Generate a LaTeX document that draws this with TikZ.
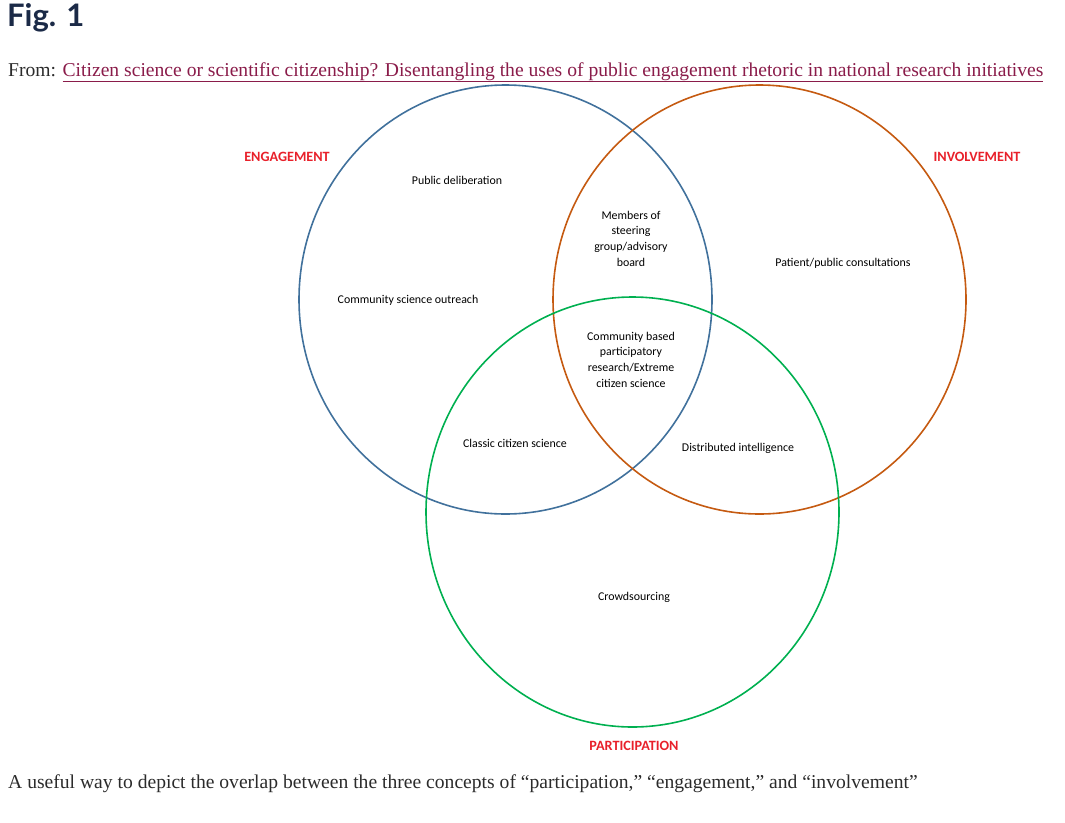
\documentclass[tikz,border=0pt]{standalone}
\usepackage{fontspec}
\setmainfont{Liberation Serif}
\newfontfamily\carlito{Carlito}
\newfontfamily\figfont{Lato}
\definecolor{engblue}{HTML}{41719C}
\definecolor{invorange}{HTML}{C55A11}
\definecolor{pargreen}{HTML}{00B050}
\definecolor{labred}{HTML}{E8202A}
\definecolor{titlenavy}{HTML}{1B2A47}
\definecolor{linkred}{HTML}{8A1C4A}
\definecolor{bodygray}{HTML}{2B2B2B}
\begin{document}
\begin{tikzpicture}[x=1pt,y=-1pt,
  setcircle/.style={line width=1.6pt},
  setlabel/.style={font=\carlito\bfseries\fontsize{14.2}{16}\selectfont, text=labred, inner sep=0pt},
  itemlabel/.style={font=\carlito\fontsize{11.9}{15.7}\selectfont, text=black, inner sep=0pt, align=center}]
\useasboundingbox (0,0) rectangle (1065,822);
% title and source line
\node[anchor=west, inner sep=0pt, font=\figfont\bfseries\fontsize{31}{34}\selectfont, text=titlenavy] (fig) at (7,18) {Fig. 1};
\node[anchor=base west, inner sep=0pt, font=\fontsize{19.6}{22}\selectfont, text=bodygray] (from) at (8,76)
  {From: \textcolor{linkred}{\underline{Citizen science or scientific citizenship? Disentangling the uses of public engagement rhetoric in national research initiatives}}};
% circles
\draw[setcircle, engblue] (505.5,299.5) ellipse [x radius=206.5, y radius=214.5];
\draw[setcircle, invorange] (759.5,299.5) ellipse [x radius=206.5, y radius=214.5];
\draw[setcircle, pargreen] (632.5,512) ellipse [x radius=206.5, y radius=215];
% set labels
\node[setlabel] (eng) at (287,157) {ENGAGEMENT};
\node[setlabel] (inv) at (977,157) {INVOLVEMENT};
\node[setlabel] (par) at (634,746) {PARTICIPATION};
% region labels
\node[itemlabel] (pubdel) at (457,180) {Public deliberation};
\node[itemlabel] (members) at (631,238.5) {Members of\\steering\\group/advisory\\board};
\node[itemlabel] (patient) at (843,263) {Patient/public consultations};
\node[itemlabel] (outreach) at (408,300) {Community science outreach};
\node[itemlabel] (cbpr) at (631,359.5) {Community based\\participatory\\research/Extreme\\citizen science};
\node[itemlabel] (classic) at (515,443) {Classic citizen science};
\node[itemlabel] (distrib) at (738,448) {Distributed intelligence};
\node[itemlabel] (crowd) at (634,597) {Crowdsourcing};
% caption
\node[anchor=base west, inner sep=0pt, font=\fontsize{19.6}{22}\selectfont, text=bodygray] (caption) at (8,788)
  {A useful way to depict the overlap between the three concepts of “participation,” “engagement,” and “involvement”};
\end{tikzpicture}
\end{document}
